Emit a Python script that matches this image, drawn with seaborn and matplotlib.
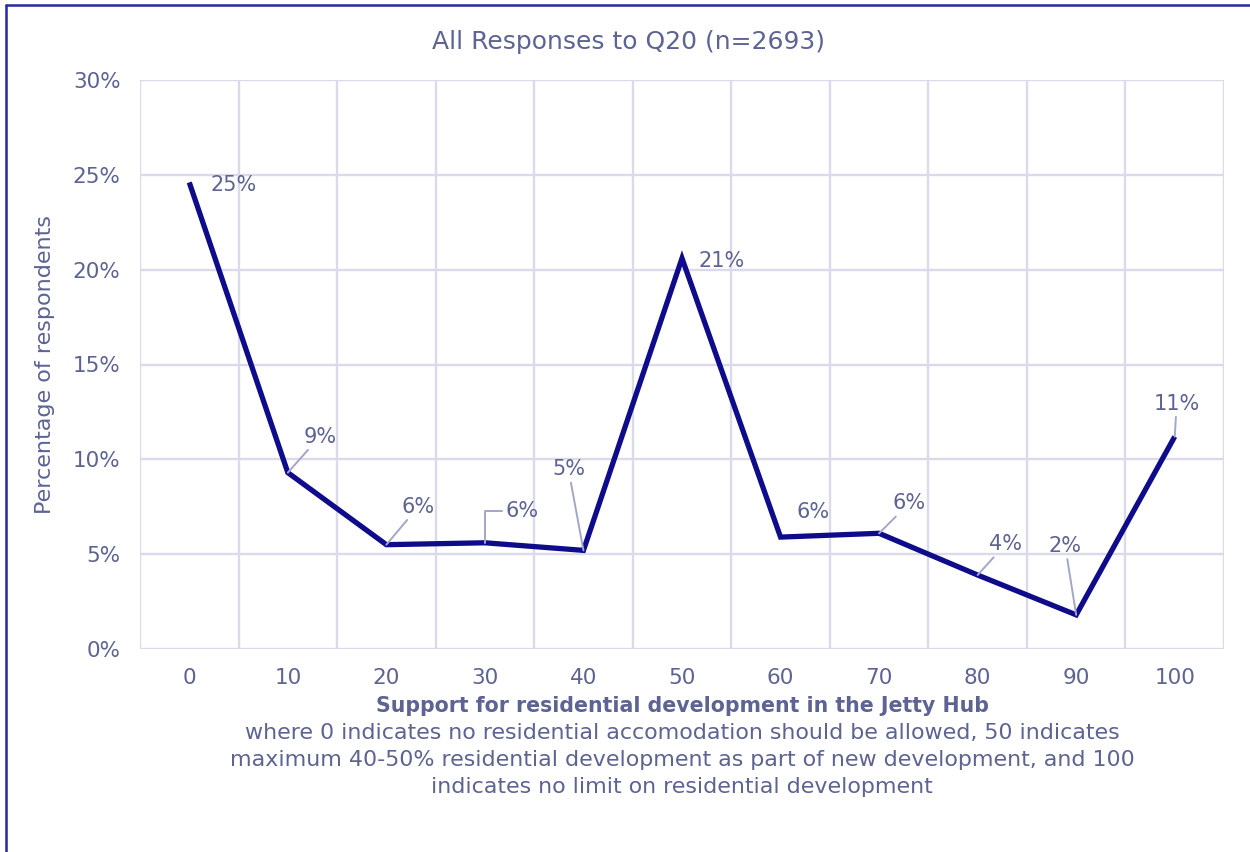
import numpy as np
import pandas as pd
import matplotlib
matplotlib.use("Agg")
import matplotlib.pyplot as plt
from matplotlib.lines import Line2D
import seaborn as sns

# Survey data: share of respondents at each support level
levels = ["0", "10", "20", "30", "40", "50", "60", "70", "80", "90", "100"]
percent = [24.6, 9.3, 5.5, 5.6, 5.2, 20.6, 5.9, 6.1, 3.9, 1.8, 11.2]
y_ticks = [0, 5, 10, 15, 20, 25, 30]

title = "All Responses to Q20 (n=2693)"
x_title = "Support for residential development in the Jetty Hub"
x_note = ["where 0 indicates no residential accomodation should be allowed, 50 indicates",
          "maximum 40-50% residential development as part of new development, and 100",
          "indicates no limit on residential development"]
y_title = "Percentage of respondents"

# label placement (offset in pixels from each point) and leader style
label_offsets = [(44, -3), (32, 36), (32, 38), (37, 32), (-15, 81), (40, -3),
                 (33, 25), (30, 30), (28, 31), (-11, 69), (2, 33)]
leader = [False, True, True, "elbow", True, False, False, True, True, True, True]

TEXT = "#5d6392"
GRID = "#dadaea"
LINE = "#0f0c8c"
LEAD = "#a3a7c6"

sns.set_theme(style="white")
plt.rcParams["font.family"] = ["DejaVu Sans"]

df = pd.DataFrame({"level": levels, "percent": percent})

fig = plt.figure(figsize=(12.5, 8.52), dpi=100)
ax = fig.add_axes([140 / 1250, 1 - 649 / 852, (1224 - 140) / 1250, (649 - 80) / 852])

sns.lineplot(data=df, x="level", y="percent", ax=ax, color=LINE, linewidth=3.8,
             sort=False, solid_joinstyle="miter", solid_capstyle="butt")

n = len(levels)
ax.set_xlim(-0.5, n - 0.5)
ax.set_ylim(0, 30)
ax.set_yticks(y_ticks)
ax.set_yticklabels([f"{t}%" for t in y_ticks])
ax.set_xticks(range(n))
ax.set_xticklabels(levels)

ax.grid(False)
for x in np.arange(-0.5, n, 1.0):
    ax.axvline(x, color=GRID, linewidth=1.7, zorder=0)
for y in y_ticks:
    ax.axhline(y, color=GRID, linewidth=1.7, zorder=0)
for s in ax.spines.values():
    s.set_visible(False)

ax.tick_params(axis="both", which="both", length=0, colors=TEXT, labelsize=15.5)
ax.tick_params(axis="y", pad=14)
ax.tick_params(axis="x", pad=14)
ax.set_xlabel("")
ax.set_ylabel(y_title, color=TEXT, fontsize=16)
ax.yaxis.set_label_coords(-(140 - 55) / 1084, 0.5)

# value labels with leader lines
for i, (val, off, ld) in enumerate(zip(percent, label_offsets, leader)):
    kw = dict(textcoords="offset pixels", xytext=off, ha="center", va="center",
              fontsize=15, color=TEXT, annotation_clip=False)
    if ld == "elbow":
        kw["arrowprops"] = dict(arrowstyle="-", color=LEAD, lw=1.4, shrinkA=0, shrinkB=0,
                                relpos=(0, 0.5),
                                connectionstyle="angle,angleA=0,angleB=90,rad=0")
    elif ld:
        kw["arrowprops"] = dict(arrowstyle="-", color=LEAD, lw=1.4, shrinkA=0, shrinkB=0)
    ax.annotate(f"{val:.0f}%", xy=(i, val), **kw)

fig.text(629 / 1250, 1 - 42 / 852, title, ha="center", va="center", fontsize=18, color=TEXT)

cx = (140 + 1224) / 2 / 1250
fig.text(cx, 1 - 706 / 852, x_title, ha="center", va="center", fontsize=14.8,
         fontweight="bold", color=TEXT)
for k, line in enumerate(x_note):
    fig.text(cx, 1 - (733 + 27 * k) / 852, line, ha="center", va="center",
             fontsize=15.9, color=TEXT)

# frame edges along the top and left
BORDER = "#2727a6"
fig.add_artist(Line2D([6 / 1250, 1], [1 - 5 / 852, 1 - 5 / 852], color=BORDER, lw=1.8,
                      transform=fig.transFigure))
fig.add_artist(Line2D([6 / 1250, 6 / 1250], [0, 1 - 5 / 852], color=BORDER, lw=1.8,
                      transform=fig.transFigure))

fig.savefig("out.png", dpi=100, facecolor="white")
